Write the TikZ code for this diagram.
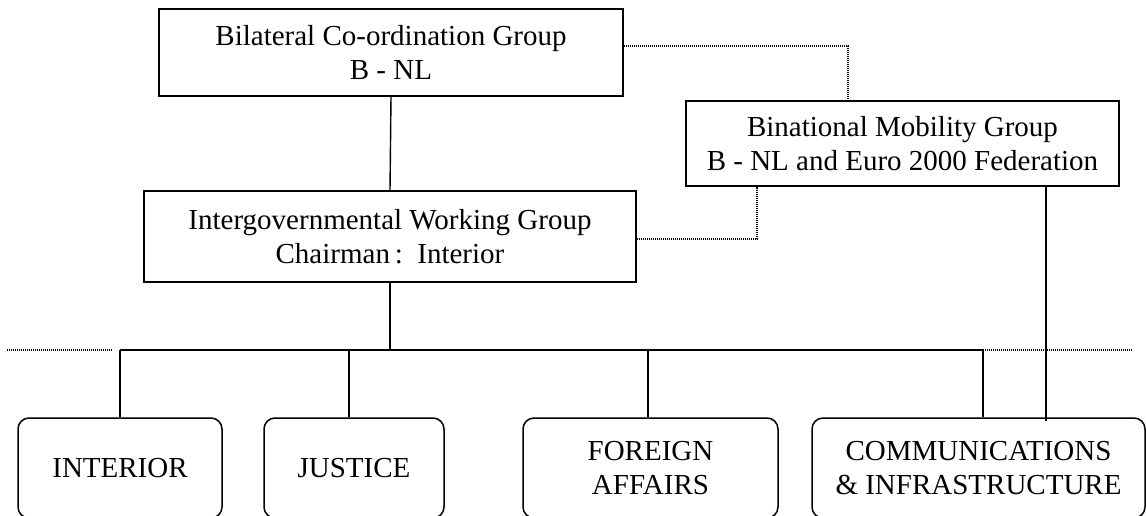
\documentclass[tikz,border=0pt]{standalone}
\usepackage{fontspec}
\setmainfont{Liberation Serif}
\begin{document}
\begin{tikzpicture}[x=1pt,y=-1pt,
  box/.style={draw, line width=1.5pt, inner sep=0pt, align=center, font=\fontsize{29}{34}\selectfont},
  sq/.style={box},
  rbox/.style={box, rounded corners=11pt},
  conn/.style={line width=1.4pt},
  dots/.style={line width=1.2pt, dash pattern=on 1pt off 1pt}]
\useasboundingbox (0,0) rectangle (1146,515);
\clip (0,0) rectangle (1146,515);
% main boxes
\node[sq, minimum width=464pt, minimum height=87pt] (bcg) at (391,52.5) {Bilateral Co-ordination Group\\B - NL};
\node[sq, minimum width=492pt, minimum height=91pt] (igwg) at (390,236.5) {Intergovernmental Working Group\\Chairman\,:\enspace Interior};
\node[sq, minimum width=433pt, minimum height=85pt] (bmg) at (902.5,143.5) {Binational Mobility Group\\B - NL and Euro 2000 Federation};
% ministries
\node[rbox, minimum width=204pt, minimum height=100pt] (int) at (120,468) {INTERIOR};
\node[rbox, minimum width=180pt, minimum height=100pt] (just) at (354,468) {JUSTICE};
\node[rbox, minimum width=255pt, minimum height=100pt] (fa) at (650.5,468) {FOREIGN\\AFFAIRS};
\node[rbox, minimum width=333pt, minimum height=100pt] (com) at (978.5,468) {COMMUNICATIONS\\\& INFRASTRUCTURE};
% coordinates
\coordinate (bM) at (390,350);
\coordinate (bL) at (120,350);
\coordinate (bJ) at (349,350);
\coordinate (bF) at (648,350);
\coordinate (bR) at (983,350);
\coordinate (dL1) at (7,350);
\coordinate (dL2) at (113,350);
\coordinate (dR) at (1133,350);
\coordinate (d1) at (848,46);
\coordinate (d2) at (757,239);
\coordinate (m1) at (1046,421);
% solid connectors
\draw[conn] (bcg.south) -- (igwg.north);
\draw[conn] (igwg.south) -- (bM);
\draw[conn] (bL) -- (bR);
\draw[conn] (bL) -- (bL |- int.north);
\draw[conn] (bJ) -- (bJ |- just.north);
\draw[conn] (bF) -- (bF |- fa.north);
\draw[conn] (bR) -- (bR |- com.north);
\draw[conn] (m1 |- bmg.south) -- (m1);
% dotted connectors
\draw[dots] (bcg.east |- d1) -- (d1) -- (d1 |- bmg.north);
\draw[dots] (igwg.east |- d2) -- (d2) -- (d2 |- bmg.south);
\draw[dots] (dL1) -- (dL2);
\draw[dots] (bR) -- (dR);
\end{tikzpicture}
\end{document}
